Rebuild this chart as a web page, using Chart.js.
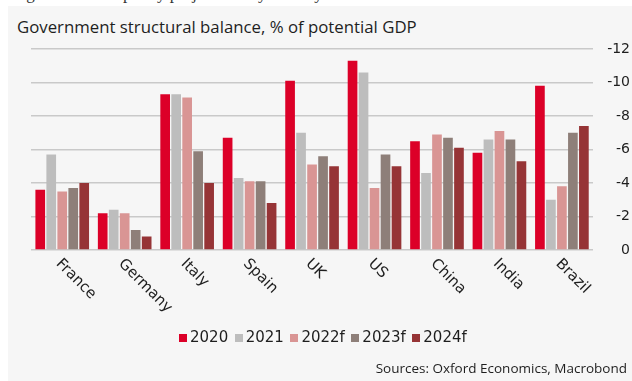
<!DOCTYPE html>
<html>
<head>
<meta charset="utf-8">
<script src="https://cdn.jsdelivr.net/npm/chart.js"></script>
<style>
  body { margin: 0 ; background: #fff ; }
  #wrap { position: relative ; width: 632px ; height: 381px ; overflow: hidden ; }
  #fig { position: absolute ; left: 12px ; top: -16px ; font: 17px "Liberation Serif", serif ; color: #333 ; white-space: nowrap ; }
  #panel { position: absolute ; left: 8px ; top: 6px ; width: 624px ; height: 375px ; background: #f6f6f6 ; }
  #title { position: absolute ; left: 17px ; top: 15px ; font: 16.8px "Open Sans", sans-serif ; color: #1e1e1e ; white-space: nowrap ; }
  #legend { position: absolute ; left: 179px ; top: 328px ; font: 15px "DejaVu Sans", sans-serif ; color: #1e1e1e ; white-space: nowrap ; }
  #legend span.item { margin-right: 6.5px ; }
  #legend span.box { display: inline-block ; width: 8px ; height: 8px ; margin-right: 3px ; }
  #source { position: absolute ; right: 5px ; top: 359px ; font: 13.5px "Open Sans", sans-serif ; color: #1e1e1e ; white-space: nowrap ; }
  canvas { position: absolute ; left: 0 ; top: 0 ; }
</style>
</head>
<body>
<div id="wrap">
  <div id="fig">Figure 4: Fiscal policy projections by country</div>
  <div id="panel"></div>
  <div id="title">Government structural balance, % of potential GDP</div>
  <canvas id="chart" width="632" height="381"></canvas>
  <div id="legend"></div>
  <div id="source">Sources: Oxford Economics, Macrobond</div>
</div>
<script>
// structural balance by country, negative = deficit
var countries = ['France', 'Germany', 'Italy', 'Spain', 'UK', 'US', 'China', 'India', 'Brazil'] ;
var years = ['2020', '2021', '2022f', '2023f', '2024f'] ;
var colors = ['#dc0028', '#bdbdbd', '#d99594', '#8e7f79', '#963436'] ;

var bal2020 = [-3.6, -2.2, -9.3, -6.7, -10.1, -11.3, -6.5, -5.8, -9.8] ;
var bal2021 = [-5.7, -2.4, -9.3, -4.3, -7.0, -10.6, -4.6, -6.6, -3.0] ;
var bal2022 = [-3.5, -2.2, -9.1, -4.1, -5.1, -3.7, -6.9, -7.1, -3.8] ;
var bal2023 = [-3.7, -1.2, -5.9, -4.1, -5.6, -5.7, -6.7, -6.6, -7.0] ;
var bal2024 = [-4.0, -0.8, -4.0, -2.8, -5.0, -5.0, -6.1, -5.3, -7.4] ;

var yMin = -12 ;
var yMax = 0 ;
var yStep = 2 ;

var series = [bal2020, bal2021, bal2022, bal2023, bal2024] ;
var datasets = [] ;
for (let i = 0; i < series.length; i++) {
  datasets.push({
    label: years[i],
    data: series[i],
    backgroundColor: colors[i],
    borderWidth: 0,
    categoryPercentage: 0.88,
    barPercentage: 0.88
  }) ;
}

// legend built from the same series names and colours
var legendHtml = '' ;
for (let i = 0; i < years.length; i++) {
  legendHtml += '<span class="item"><span class="box" style="background:' + colors[i] + '"></span>' + years[i] + '</span>' ;
}
document.getElementById('legend').innerHTML = legendHtml ;

// x labels go down to the right, chart.js only rotates the other way
var slantedLabels = {
  id: 'slantedLabels',
  afterDraw: function(chart) {
    var ctx = chart.ctx ;
    var xs = chart.scales.x ;
    var base = chart.chartArea.bottom ;
    ctx.save() ;
    ctx.font = '15px "DejaVu Sans", sans-serif' ;
    ctx.fillStyle = '#1e1e1e' ;
    ctx.textAlign = 'left' ;
    ctx.textBaseline = 'middle' ;
    for (let i = 0; i < countries.length; i++) {
      var px = xs.getPixelForValue(i) ;
      ctx.save() ;
      ctx.translate(px - 4, base + 11.5) ;
      ctx.rotate(Math.PI / 4) ;
      ctx.fillText(countries[i], 0, 0) ;
      ctx.restore() ;
    }
    ctx.restore() ;
  }
} ;

var ctx = document.getElementById('chart').getContext('2d') ;
var mychart = new Chart(ctx, {
  type: 'bar',
  data: {
    labels: countries,
    datasets: datasets
  },
  options: {
    responsive: false,
    animation: false,
    devicePixelRatio: 1,
    layout: {
      padding: { left: 31, right: 2, top: 49, bottom: 131 }
    },
    plugins: {
      legend: { display: false },
      tooltip: { enabled: false }
    },
    scales: {
      x: {
        display: false
      },
      y: {
        position: 'right',
        reverse: true,
        min: yMin,
        max: yMax,
        border: { display: false },
        grid: {
          color: '#c9c9c9',
          lineWidth: 1.5,
          drawTicks: false
        },
        ticks: {
          stepSize: yStep,
          padding: 7,
          crossAlign: 'far',
          color: '#1e1e1e',
          font: { family: '"DejaVu Sans", sans-serif', size: 14 }
        }
      }
    }
  },
  plugins: [slantedLabels]
}) ;
mychart.update() ;
</script>
</body>
</html>
